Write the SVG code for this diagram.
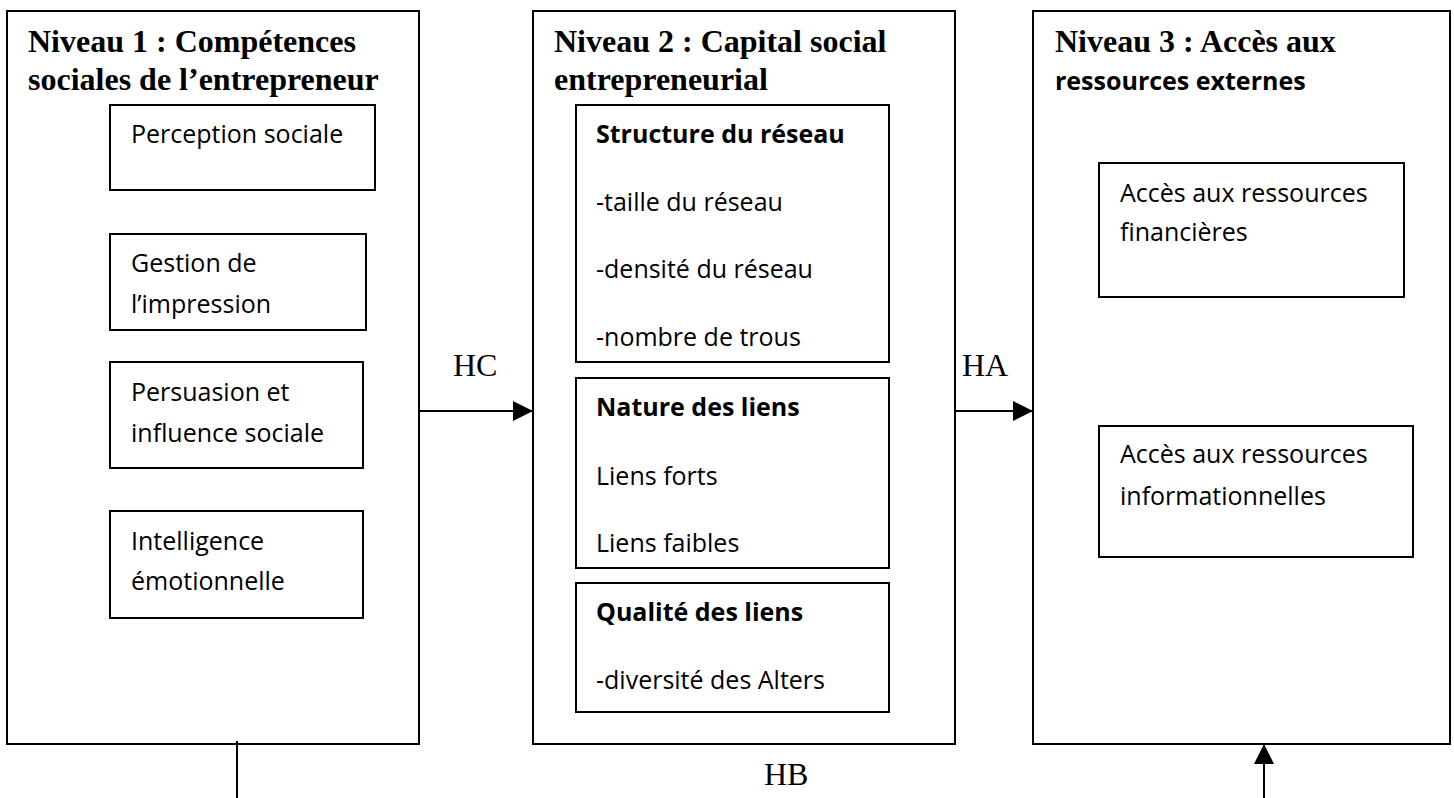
<svg xmlns="http://www.w3.org/2000/svg" width="1454" height="798" viewBox="0 0 1454 798">
<style>
.box{fill:#fff;stroke:#000;stroke-width:2}
.ttl{font-family:"Liberation Serif","Times New Roman",serif;font-weight:bold;font-size:32px;fill:#000}
.lbl{font-family:"Liberation Serif","Times New Roman",serif;font-size:32px;fill:#000}
.txt{font-family:"Open Sans","Noto Sans",sans-serif;font-size:25px;fill:#000}
.bld{font-family:"Open Sans","Noto Sans",sans-serif;font-size:25px;font-weight:bold;fill:#000}
.con{stroke:#000;stroke-width:2;fill:none}
</style>
<defs>
<marker id="arr" markerUnits="userSpaceOnUse" markerWidth="20" markerHeight="20" refX="20" refY="10" orient="auto">
<path d="M0,0 L20,10 L0,20 Z" fill="#000"/>
</marker>
</defs>
<g id="niveau1">
<rect class="box" x="7" y="11" width="412" height="733"/>
<text class="ttl" x="28" y="52">Niveau 1 : Compétences</text>
<text class="ttl" x="28" y="90">sociales de l’entrepreneur</text>
<g id="perception">
<rect class="box" x="110" y="105" width="265" height="85"/>
<text class="txt" x="131" y="143">Perception sociale</text>
</g>
<g id="gestion">
<rect class="box" x="110" y="234" width="256" height="96"/>
<text class="txt" x="131" y="272">Gestion de</text>
<text class="txt" x="131" y="313">l’impression</text>
</g>
<g id="persuasion">
<rect class="box" x="110" y="362" width="253" height="106"/>
<text class="txt" x="131" y="401">Persuasion et</text>
<text class="txt" x="131" y="442">influence sociale</text>
</g>
<g id="intelligence">
<rect class="box" x="110" y="511" width="253" height="107"/>
<text class="txt" x="131" y="550">Intelligence</text>
<text class="txt" x="131" y="590">émotionnelle</text>
</g>
</g>
<g id="niveau2">
<rect class="box" x="533" y="11" width="422" height="733"/>
<text class="ttl" x="554" y="52">Niveau 2 : Capital social</text>
<text class="ttl" x="554" y="90">entrepreneurial</text>
<g id="structure">
<rect class="box" x="576" y="105" width="313" height="257"/>
<text class="bld" x="596" y="143">Structure du réseau</text>
<text class="txt" x="596" y="211">-taille du réseau</text>
<text class="txt" x="596" y="278">-densité du réseau</text>
<text class="txt" x="596" y="346">-nombre de trous</text>
</g>
<g id="nature">
<rect class="box" x="576" y="378" width="313" height="190"/>
<text class="bld" x="596" y="416">Nature des liens</text>
<text class="txt" x="596" y="485">Liens forts</text>
<text class="txt" x="596" y="552">Liens faibles</text>
</g>
<g id="qualite">
<rect class="box" x="576" y="583" width="313" height="129"/>
<text class="bld" x="596" y="621">Qualité des liens</text>
<text class="txt" x="596" y="689">-diversité des Alters</text>
</g>
</g>
<g id="niveau3">
<rect class="box" x="1033" y="11" width="417" height="733"/>
<text class="ttl" x="1055" y="52">Niveau 3 : Accès aux</text>
<text class="bld" x="1055" y="90">ressources externes</text>
<g id="financieres">
<rect class="box" x="1099" y="163" width="305" height="134"/>
<text class="txt" x="1120" y="202">Accès aux ressources</text>
<text class="txt" x="1120" y="241">financières</text>
</g>
<g id="informationnelles">
<rect class="box" x="1099" y="426" width="314" height="131"/>
<text class="txt" x="1120" y="463">Accès aux ressources</text>
<text class="txt" x="1120" y="505">informationnelles</text>
</g>
</g>
<g id="connectors">
<line class="con" x1="419" y1="411" x2="533" y2="411" marker-end="url(#arr)"/>
<line class="con" x1="955" y1="411" x2="1033" y2="411" marker-end="url(#arr)"/>
<line class="con" x1="237" y1="741" x2="237" y2="798"/>
<line class="con" x1="1264" y1="798" x2="1264" y2="744" marker-end="url(#arr)"/>
<text class="lbl" x="453" y="376">HC</text>
<text class="lbl" x="962" y="376">HA</text>
<text class="lbl" x="764" y="785">HB</text>
</g>
</svg>
